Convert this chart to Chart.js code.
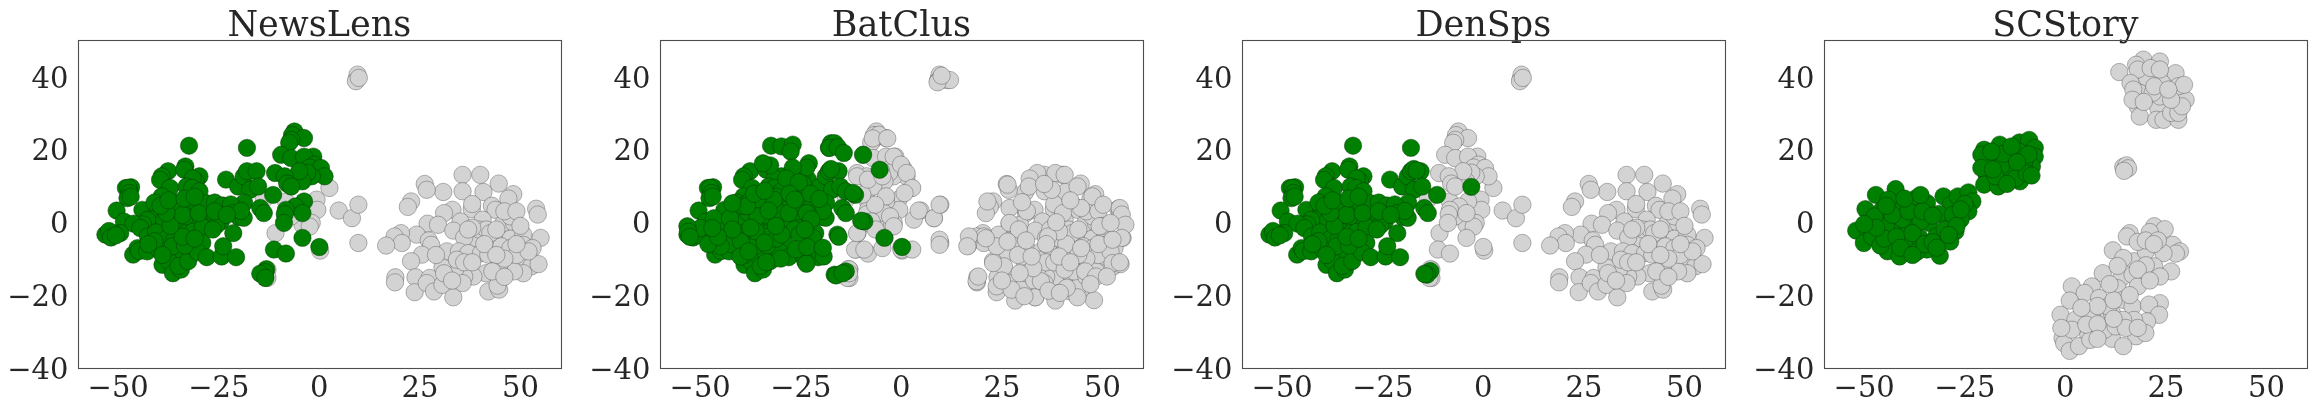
<!DOCTYPE html>
<html><head><meta charset="utf-8">
<style>html,body{margin:0;padding:0;background:#fff;width:2316px;height:410px;overflow:hidden}
canvas{position:absolute;top:0;filter:blur(.3px)}</style>
<script src="https://cdn.jsdelivr.net/npm/chart.js@4"></script></head><body>
<canvas id="c0"></canvas><canvas id="c1"></canvas><canvas id="c2"></canvas><canvas id="c3"></canvas>
<script>
const titles=["NewsLens","BatClus","DenSps","SCStory"];
const xTicks=[-50,-25,0,25,50];
const yTicks=[-40,-20,0,20,40];
const xRange=[-60,60];
const yRange=[-40,50];

const sharedGreen=[[-32.4,21],[-18,20.4],[-37.6,14],[-39.2,12.6],[-39.6,11.6],[-37.1,9.4],[-39.2,7.1],[-33.3,15.3],[-33.6,14.4],[-29.8,12.6],[-30.7,11.2],[-31.5,12],[-33,9.8],[-31.6,9.4],[-29.8,8.5],[-23.2,11.7],[-20.2,9.8],[-18.8,12.6],[-18,14],[-15.6,14],[-17.2,8.9],[-15.2,9.8],[-18.7,5.3],[-11.5,7.5],[-14.7,3.9],[-13.8,2.5],[-48.1,9.4],[-46.8,9.6],[-47.5,9.4],[-47.2,8],[-47.7,6.6],[-46.9,7],[-50.4,3.2],[-44,3.4],[-40.3,3.4],[-40.2,1.8],[-41,5.4],[-36,3.4],[-35,5.4],[-32.4,3.4],[-30.4,5],[-28,5.2],[-26,5.4],[-24,4.6],[-22,4.9],[-21.4,2.5],[-20,1.4],[-18.8,1.2],[-19.5,3.1],[-27,1.6],[-28.2,0.2],[-24.5,0.2],[-30,0.4],[-33.6,1],[-36.8,0.4],[-38.6,0.6],[-42.8,0.6],[-43.8,-0.6],[-48.6,0.2],[-46.2,-0.4],[-44.5,-1.6],[-42.6,-3.9],[-40.6,-2.8],[-38,-4.6],[-35.4,-2.6],[-36,-4.8],[-33,-3],[-31.4,-2.6],[-29,-1.4],[-25.6,-0.8],[-21.4,-3],[-49.5,-3],[-51.3,-3],[-53.2,-3.4],[-52.3,-2.4],[-51.8,-4.2],[-50.6,-3.6],[-46.3,-8.9],[-45.2,-7.1],[-44.8,-7.9],[-42.8,-8],[-39.9,-7.5],[-36,-8.5],[-34,-9],[-39,-11.7],[-37.5,-10.6],[-36.4,-14],[-34.4,-13],[-35,-12],[-32.6,-10.7],[-31.5,-6.6],[-29.1,-5.7],[-30.2,-8.2],[-28,-9.6],[-24.3,-9.4],[-23.9,-6.6],[-20.7,-9.6],[-36.5,-6.6],[-41,-5.2],[-33.4,-6.4],[-39,-9],[-34,-4],[-37,-1],[-34,2],[-38,2.5],[-30,2.5],[-26,3],[-23,2],[-26.5,-2],[-31,-4.5],[-42.5,-6],[-39.5,4.5],[-37.5,6],[-33.5,6.5],[-31,7]];
const newsLensOnlyGreen=[[-6.2,24.9],[-6.8,23.9],[-3.8,23.1],[-7,22.6],[-7.5,21.8],[-9.5,18.5],[-7,17.6],[-1.5,18],[-3.8,18],[-1.2,15.8],[-2.4,15],[0.4,14.9],[1.3,12.6],[-1.9,12.6],[-3,13.6],[-4.2,11.2],[-5,14],[-11,13.5],[-8.6,12.6],[-8,10.6],[-7,9.8],[-3.8,5.7],[-6,4.3],[-8.3,3.4],[-8.6,2.2],[-4.2,2.5],[-8.8,-0.2],[-4.2,-4.3],[0,-6.8],[-11.3,-7.5],[-8.3,-8.6],[-13.2,-12.9],[-13.5,-13.7],[-14.7,-14.1],[-13.4,-15.3]];
const denSpsGreen=[[-3,9.7],[-17.3,14.6],[-16.6,14.2],[-13.2,-13.4],[-14,-14.4],[-14.6,-14.2]];
const batClusGreen=[[-29.8,20.8],[-27,21.3],[-27.5,19.4],[-17.5,21.7],[-16.6,21.7],[-17.9,20.4],[-15.8,20.6],[-14.3,19],[-9.5,18.5],[-5.4,14.4],[-17.5,14.6],[-13.8,8.5],[-12,8],[-9.2,0.2],[-10,0.4],[-15.9,-3.4],[-15.6,-4],[-4.2,-4.3],[0.2,-6.8],[-16.6,-14.4],[-16.2,-14.6],[-13.8,-13.5],[-14.6,-14],[-19.3,-9.4],[-23.9,-10.7],[-23.6,-11.4],[-23,16.2],[-24.8,13.5],[-23.6,15],[-25.7,8.9],[-24.5,10.5],[-22.6,7.8],[-20.4,6.4],[-31.7,6.2],[-35.8,6.2],[-28,2.5],[-35.8,1.6],[-36.2,-2.5],[-29.8,-3.4],[-25.3,-3.4],[-22,-4.3],[-39.9,-5.3],[-44.9,-6.6],[-50,-1.6],[-46.6,1.1],[-42.6,1.1],[-53.2,-1.1],[-53,-2.6],[-52.6,-4],[-48,-6],[-32.6,15.6],[-34.4,16.2],[-27,15],[-28.6,12],[-25.5,11],[-27.8,7.8],[-26.5,6.2],[-23.5,2.5],[-22.4,0.8],[-24,-2],[-26.2,-7.4],[-30,-10],[-33.6,-11],[-40,-9.4],[-38,-8],[-42,-2],[-45.6,-4],[-47,-1.6],[-34,-5.6],[-37.5,-1.5],[-31.2,-1],[-33,3.2],[-38.4,4.4],[-42,5.2],[-36.6,7.8],[-34,8.6],[-23.4,-6.8],[-19.5,-7]];
const scStoryGreen=[[-42.2,9.1],[-47.1,7.5],[-49.7,3.6],[-45.6,3.4],[-52,-2.3],[-49.2,-2],[-50.1,-5.7],[-44.2,-8],[-41.2,-9.4],[-39.5,-6.2],[-42.4,-1.1],[-37.1,6.6],[-34.4,5.3],[-37.6,2.5],[-33.9,-0.2],[-36.2,-4.3],[-32.1,-3.9],[-31.2,-9.2],[-34.4,-7.5],[-30.3,7.1],[-28.5,4.8],[-26.7,7.1],[-24.1,8.2],[-23.1,5.7],[-24.1,3],[-27.3,-2.5],[-28.6,-5.3],[-29.1,0.7],[-41,4.5],[-44.6,-1],[-47.4,1.6],[-39,-1],[-26,0.8],[-31.4,2.3],[-44,6.2],[-48,-4],[-46,-6.4],[-37,-8.2],[-40.5,0.8],[-36,0.2],[-25,5],[-28,2],[-30,-2],[-45,-4.5],[-42,-4],[-38,-3],[-35,-6],[-41,-7],[-47,-1.5],[-43,2],[-39,3],[-35.5,3],[-33,1.8],[-44.5,4.5],[-40,6.5],[-36,7.5],[-33,-5.5],[-32,-7],[-38,-9],[-27,-1],[-26,3.5],[-29,-3.5],[-50,-0.5],[-20.2,19.9],[-20.9,18.5],[-16.3,21.3],[-11.4,21.9],[-9,22.6],[-7.6,20.4],[-7.6,18],[-8.3,15.3],[-17.2,16.7],[-19.5,12.6],[-20.9,14.9],[-20.2,10.3],[-16.7,9.8],[-11.3,11.2],[-14,18],[-13.1,14.4],[-10.3,16.2],[-14.5,13.5],[-16,15.4],[-11.6,19.4],[-9.2,18.6],[-17.4,12.6],[-12.4,12],[-15.4,18.8],[-18.4,19.4],[-9.6,13.4],[-13.4,20.8],[-18,14.5],[-14.5,10.5],[-8.4,12.8],[-12,16.5]];

const rightGrey=[[35.6,13],[40,13],[44.6,10.6],[48.2,7.7],[47,6.5],[40.8,8.3],[35.6,8.5],[30.8,8.3],[26.2,10.5],[26.7,8.9],[22.8,5.7],[22,4.2],[37.9,3.6],[33.1,3.4],[42.9,4.5],[43.8,3.4],[31,2.5],[35.1,0.2],[26.9,-0.4],[29.5,-0.7],[33.3,-2.3],[40.6,0.7],[45.7,-0.4],[48.4,-0.2],[47.5,1.6],[53.9,3.7],[54.3,2.1],[55,-4.3],[47.5,-4.5],[50.7,-3.4],[43.4,-4.6],[39.2,-4.5],[36,-4.2],[24.2,-3.4],[20.3,-3],[18.7,-3.9],[20.5,-5.7],[16.6,-6.4],[27.2,-5],[27.8,-6.2],[25.5,-8.9],[22.8,-10.7],[31.7,-8],[34.7,-8],[37,-8.5],[40.2,-8.5],[42,-8.9],[45.2,-6.6],[47.5,-7.1],[50.7,-6.2],[53,-7.1],[51.6,-10.7],[52.7,-12.1],[54.5,-11.5],[50.7,-14],[48.4,-13.5],[44.7,-12.1],[41.4,-14],[38.3,-14.9],[36,-14.9],[33.8,-12.9],[30.6,-12.4],[23.9,-15.1],[18.9,-15.1],[18.8,-16.5],[23.7,-19.2],[27.4,-15.3],[26.7,-16.7],[28.5,-19],[30.6,-17.2],[35.6,-16.7],[33.3,-20.6],[42,-19],[44.7,-18.5],[44.3,-17.4],[34.2,-10.3],[39.7,-2],[41.5,-2],[42.5,-3],[49,-9],[46,-10],[38,5],[36,-11],[46,3],[49,3],[50,-1],[52,-8],[49,-6],[44,-2],[41,-6],[38,-1.5],[44,-9],[38,-11],[31,-14],[33,-16],[29,-9],[43,-13.5],[46,-15],[37,-2]];
const midGrey=[[2.5,9.4],[-0.7,6.2],[-0.5,3.4],[-1.9,-0.2],[-4.2,-0.7],[-10.9,-3],[0.2,-7.8],[4.8,3.2],[8.1,1.1],[9.7,4.8],[9.7,-5.7],[-7,1.6],[-12.9,-13],[-12.9,-15.3],[-16,13.5],[-13.8,6.2],[-8.3,5.7],[-2.4,-1.2]];
const topGrey=[[9.3,39.3],[9.5,40.5],[9.1,38.7],[9.8,39.6]];
const batClusExtraGrey=[[33.8,13.5],[38.3,13.5],[40.6,13],[31.9,12],[26.4,10.3],[31.7,9.8],[37.4,8.9],[43.8,9.8],[47.5,7.1],[50.2,4.8],[54.3,3.9],[54.8,2.1],[55.7,-0.7],[54.8,-4.3],[52.5,-4.8],[49.3,-1.1],[52,-0.2],[44.7,3.9],[40.2,2.5],[26.9,3.9],[31.2,3],[21,2.5],[21.4,5.7],[26.9,-0.2],[29.2,-2],[39.2,-2.5],[36.5,-3.9],[23.7,-6.6],[26.4,-5.3],[20.5,-3.9],[16.8,-3.9],[16.4,-6.6],[21,-4.4],[18.7,-16.2],[19.1,-14.9],[23.7,-17.6],[25.5,-12.1],[22.8,-11.2],[28.3,-21.5],[33.3,-20.6],[38.3,-21.5],[47.9,-21.4],[43.8,-20.6],[41.1,-18],[34.7,-16.2],[32.8,-12.6],[40.6,-13],[45.7,-13.5],[52.5,-11.2],[54.3,-11],[48.4,-14.9],[44.7,-7.1],[39.2,-9.4],[32.4,-9.4],[27.4,-18.5],[30.6,-20.3],[51.1,-14.9],[36.6,-18.8],[39.4,-19.4],[25,-16],[29.4,-14],[42,-11],[47,-17],[36,-6],[31,-5],[42,6],[35.5,10.5],[38.5,0],[30,5.5],[-5.6,24],[-7.1,23],[-3.5,23],[-1.9,18],[-0.1,15.8],[1.3,13.5],[2.7,9.4],[0.8,8],[-3.8,7.1],[-6.5,4.8],[-9.7,7.6],[-11,12.6],[-8.3,11.7],[-4.7,12.6],[-2.8,1.6],[-1.9,-1.1],[3.1,0.7],[4.3,3.2],[8.1,1.1],[9.5,4.8],[9.5,-4.8],[9.5,-6.2],[-11.5,-7.5],[-9.2,-7.5],[-4.7,-7.1],[0,-7.5],[2.7,-7.5],[-11,-3],[-13,-12.9],[-13,-14],[-7.4,0.2],[-6.4,-2],[11.3,39],[12.1,39],[9,38.4],[10,40.2]];
const scStoryGrey=[[19.4,44.6],[23.5,44.1],[13.4,41.2],[17.6,43.2],[20.3,39.6],[18,41.9],[27.4,40.9],[24,38.2],[21.2,42.3],[23.5,41.9],[16.2,38.2],[18.5,35.5],[16.9,36.4],[29.9,33.6],[28.1,37.3],[29.5,37.7],[23.1,31.3],[23.5,34.5],[21.7,35.5],[18,31.8],[18.5,29],[22.6,28.1],[24.4,28.1],[28.1,28.1],[26.3,30],[28.1,30],[29,31.8],[26.3,33.6],[22.1,37.3],[16.7,33.6],[25.6,36.4],[19.5,33],[14.4,15.2],[14.8,14.4],[15.2,15.6],[15.6,14.8],[14.6,14.1],[22.1,-1.1],[24.7,-1.9],[21,-2.7],[16,-3],[15.3,-3.9],[26.7,-6.2],[28.5,-8],[27.5,-8.6],[24.4,-8.5],[11.8,-7.7],[17.1,-10.7],[14.4,-9.8],[20,-8],[22.1,-12.1],[26.3,-13.5],[23.5,-14.9],[9.3,-14],[13.9,-15.3],[16.7,-14.4],[18,-17.6],[13,-18.1],[6.6,-17.6],[1.6,-17.6],[4.8,-19.4],[8.4,-20.8],[1.1,-21.5],[14.4,-21.3],[16.7,-23.1],[23.5,-22.2],[20.8,-22.6],[23.3,-25.4],[20.3,-27.2],[17.1,-26.8],[9.3,-25.8],[6.6,-25.4],[-1.2,-25.4],[2.5,-26.8],[11.6,-25],[14.4,-26.8],[17.6,-31.3],[11.6,-32],[14.4,-34],[5.7,-30.9],[-0.7,-31.8],[-0.3,-33.2],[1.1,-35.3],[3.4,-34],[6.2,-32.3],[9.8,-29.5],[12.5,-28.6],[19.9,-30.4],[1.6,-29.5],[5.2,-28.1],[10.7,-23.1],[13,-12],[18,-5.4],[20,-11.8],[12,-21.4],[8,-28],[15,-29],[8,-23],[4,-23.5],[16,-20],[20,-5],[23,-5],[11,-17],[18,-13],[21,-16],[8,-32],[12,-26.5],[-1,-29],[18,-29],[22,-6]];

const panels=[
 {left:0,grey:[...topGrey,...rightGrey,...midGrey],green:[...sharedGreen,...newsLensOnlyGreen]},
 {left:582,grey:[...topGrey,...rightGrey,...midGrey,...newsLensOnlyGreen,...batClusExtraGrey],green:[...sharedGreen,...batClusGreen]},
 {left:1164,grey:[...topGrey,...rightGrey,...midGrey,...newsLensOnlyGreen],green:[...sharedGreen,...denSpsGreen]},
 {left:1746,grey:scStoryGrey,green:scStoryGreen}
];
const fmt=v=>String(v).replace("-","\u2212");
const frame={id:"frame",afterDraw(c){const a=c.chartArea,g=c.ctx;g.save();g.strokeStyle="#4d4d4d";g.lineWidth=1.1;g.strokeRect(Math.round(a.left)+.5,Math.round(a.top)+.5,Math.round(a.width),Math.round(a.height));g.restore();}};
const FONT="'DejaVu Serif',serif";
const R=8.7;
panels.forEach((p,i)=>{
 const cv=document.getElementById("c"+i);
 cv.width=570;cv.height=410;cv.style.left=p.left+"px";cv.style.width="570px";cv.style.height="410px";
 new Chart(cv,{type:"scatter",plugins:[frame],
  data:{datasets:[
   {label:"selected",data:p.green.map(d=>({x:d[0],y:d[1]})),backgroundColor:"#008000",borderColor:"rgba(0,50,0,0.75)",borderWidth:.6,pointRadius:R,pointHoverRadius:R},
   {label:"other",data:p.grey.map(d=>({x:d[0],y:d[1]})),backgroundColor:"#d3d3d3",borderColor:"rgba(70,70,70,0.65)",borderWidth:.6,pointRadius:R,pointHoverRadius:R}
  ]},
  options:{responsive:false,animation:false,events:[],
   layout:{padding:{left:0,right:570-78-486,top:0,bottom:0}},
   plugins:{legend:{display:false},tooltip:{enabled:false},
    title:{display:true,text:titles[i],color:"#262626",font:{family:FONT,size:35,weight:"normal",lineHeight:40/35},fullSize:false,padding:{top:7,bottom:-7}}},
   scales:{
    x:{type:"linear",min:xRange[0],max:xRange[1],grid:{display:false,drawTicks:false},border:{display:false},
      afterBuildTicks(s){s.ticks=xTicks.map(v=>({value:v}));},
      afterFit(s){s.height=42;},
      ticks:{color:"#262626",font:{family:FONT,size:29},padding:4,maxRotation:0,autoSkip:false,callback:v=>fmt(v)}},
    y:{type:"linear",min:yRange[0],max:yRange[1],grid:{display:false,drawTicks:false},border:{display:false},
      afterBuildTicks(s){s.ticks=yTicks.map(v=>({value:v}));},
      afterFit(s){s.width=78;
        if(!s._shifted){const o=s._computeLabelItems;s._computeLabelItems=function(ca){const it=o.call(this,ca);it.forEach(l=>{l.options.translation=[l.options.translation[0],l.options.translation[1]+3.6];});return it;};s._shifted=true;}},
      ticks:{color:"#262626",font:{family:FONT,size:29},padding:9.5,autoSkip:false,callback:v=>fmt(v)}}
   }}
 });
});
</script></body></html>
